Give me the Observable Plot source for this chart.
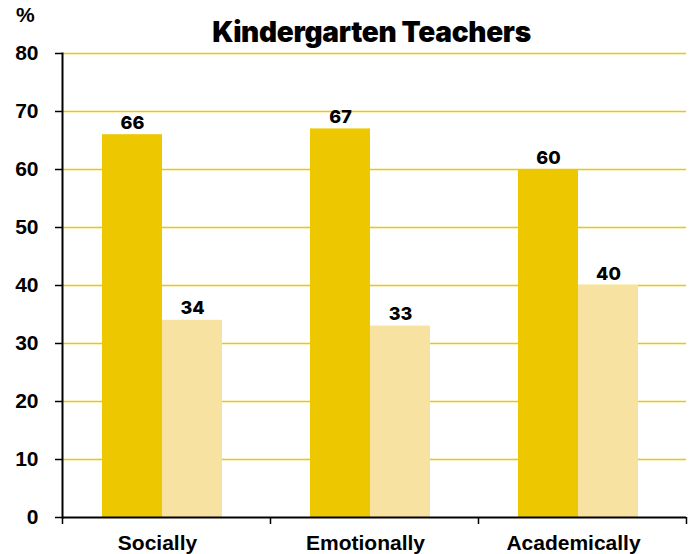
<!DOCTYPE html>
<html>
<head>
<meta charset="utf-8">
<script src="https://cdn.jsdelivr.net/npm/d3@7"></script>
<script src="https://cdn.jsdelivr.net/npm/@observablehq/plot@0.6"></script>
<style>
  html, body { margin: 0; padding: 0; background: #fff; }
  #wrap { position: relative; width: 689px; height: 554px; font-family: "Liberation Sans", Arial, sans-serif; }
  #title { position: absolute; left: 0; width: 743px; top: 18px; line-height: 28px; text-align: center; font-family: Inter, "Liberation Sans", sans-serif; font-weight: 900; font-size: 28px; color: #000; letter-spacing: -0.3px; white-space: nowrap; }
  #unit { position: absolute; left: 16px; top: 3px; font-weight: bold; font-size: 21px; color: #000; }
  #chart { position: absolute; left: 0; top: 0; }
</style>
</head>
<body>
<div id="wrap">
  <div id="chart"></div>
  <div id="title">Kindergarten Teachers</div>
  <div id="unit">%</div>
</div>
<script>
const categories = ["Socially", "Emotionally", "Academically"];
const seriesNames = ["Series 1", "Series 2"];
const series1Values = [66, 67, 60];
const series2Values = [34, 33, 40];
const yTicks = [0, 10, 20, 30, 40, 50, 60, 70, 80];

const dark = "#EDC800";
const light = "#F7E2A2";

const data = [];
categories.forEach((c, i) => {
  data.push({category: c, series: seriesNames[0], value: series1Values[i]});
  data.push({category: c, series: seriesNames[1], value: series2Values[i]});
});

const W = 689, H = 554, mL = 62, mR = 3, mT = 53, mB = 37;
const step = (W - mL - mR) / categories.length;

const chart = Plot.plot({
  width: W,
  height: H,
  marginLeft: mL,
  marginRight: mR,
  marginTop: mT,
  marginBottom: mB,
  style: {fontFamily: "'Liberation Sans', Arial, sans-serif", color: "#000", background: "#fff"},
  fx: {domain: categories, padding: 0, axis: null},
  x: {domain: seriesNames, paddingInner: 0, paddingOuter: 0.705, align: 0.46, axis: null},
  y: {domain: [0, 80], axis: null},
  color: {domain: seriesNames, range: [dark, light]},
  marks: [
    Plot.ruleY(yTicks.filter(d => d > 0), {stroke: dark, strokeWidth: 1.3}),
    Plot.barY(data, {fx: "category", x: "series", y: "value", fill: "series"}),
    Plot.text(data, {fx: "category", x: "series", y: "value", text: d => String(d.value), dy: -6, lineAnchor: "bottom", fontSize: 18, fontWeight: 800, fontFamily: "Inter, 'Liberation Sans', sans-serif", fill: "#000"}),
    Plot.ruleY([0], {stroke: "#000", strokeWidth: 2}),
    Plot.frame({anchor: "left", stroke: "#000", strokeWidth: 2, facetAnchor: "left"}),
    Plot.axisY({ticks: yTicks, tickSize: 7, tickPadding: 17, fontSize: 21, fontWeight: "bold", label: null, strokeWidth: 1.5}),
    Plot.axisFx({anchor: "bottom", tickSize: 0, tickPadding: 18, fontSize: 21, fontWeight: "bold", label: null, dx: -9}),
    Plot.axisFx({anchor: "bottom", tickSize: 7, tickFormat: () => "", label: null, dx: -step / 2, strokeWidth: 1.5}),
    Plot.axisFx({anchor: "bottom", ticks: [categories[categories.length - 1]], tickSize: 7, tickFormat: () => "", label: null, dx: step / 2, strokeWidth: 1.5})
  ]
});
document.getElementById("chart").appendChild(chart);
</script>
</body>
</html>
